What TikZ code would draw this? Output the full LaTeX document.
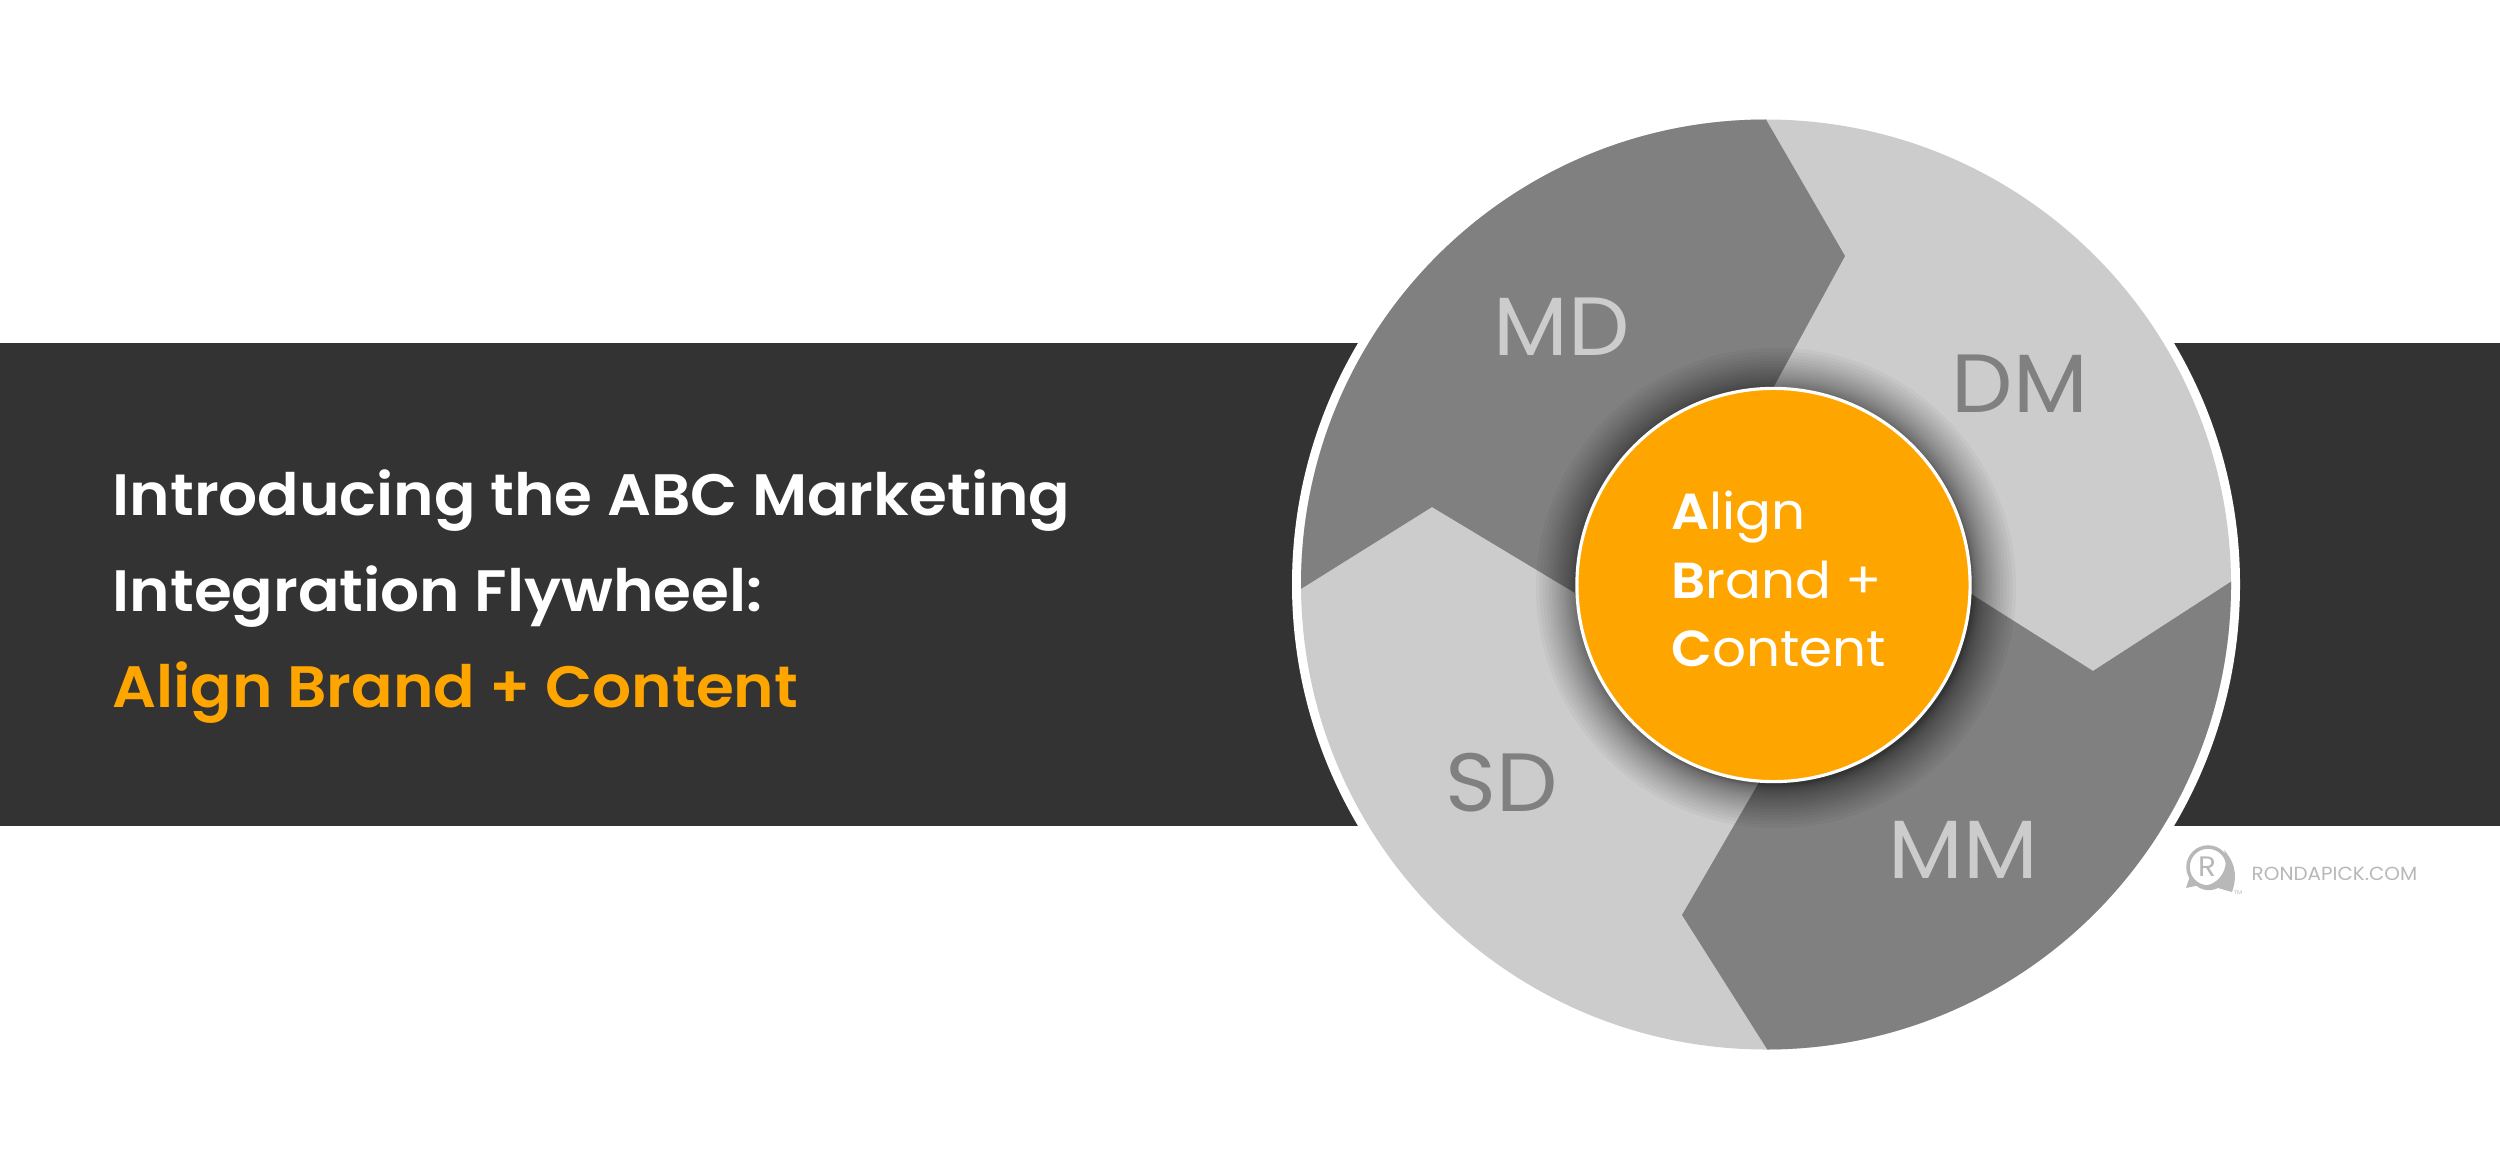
\documentclass[tikz,border=0pt]{standalone}
\usepackage{fontspec}
\setmainfont{Poppins}[FakeStretch=1.05, BoldFont={Poppins SemiBold}, BoldFeatures={FakeStretch=1.05}]
\usepackage{xcolor}
\usetikzlibrary{positioning, calc}

\definecolor{bandgray}{HTML}{333333}
\definecolor{midgray}{HTML}{808080}
\definecolor{lightgray}{HTML}{CCCCCC}
\definecolor{hubgold}{HTML}{FFA500}
\definecolor{logogray}{HTML}{B8B8B8}

\begin{document}
\begin{tikzpicture}[
      x=0.01cm, y=-0.01cm,
      % --- Estilos ---
      band/.style = {fill=bandgray, draw=none},
      title/.style = {inner sep=0pt, align=left, text=white, font=\fontsize{16.6}{27.3}\selectfont\bfseries},
      seglabel/.style = {inner sep=0pt, font=\fontsize{23.5}{28}\selectfont},
      hub/.style = {circle, draw=white, line width=0.9pt, fill=hubgold, minimum size=3.93cm, inner sep=0pt},
      hubtext/.style = {inner sep=0pt, align=left, text=white, font=\fontsize{14.4}{19.6}\selectfont},
      logo/.style = {inner sep=0pt, text=logogray}
    ]
      \useasboundingbox (0,0) rectangle (2500,1170);
      \fill[white] (0,0) rectangle (2500,1170);

      % --- Faixa ---
      \fill[band] (0,343) rectangle (2500,826);
      \node[title, anchor=west] (headline) at (112,597) {Introducing the ABC Marketing\\Integration Flywheel:\\\textcolor{hubgold}{Align Brand + Content}};

      % --- Roda ---
      \fill[white] (1766,584.5) circle (474);
      \fill[lightgray] (1766,584.5) circle (465);
      \begin{scope}
        \clip (1766,584.5) circle (465);
        \fill[midgray] (1750,92) -- (1845,256) -- (1760,412) -- (1700,600) -- (1575,593) -- (1432,507) -- (1200,652) -- (1200,92) -- cycle;
        \fill[midgray] (1900,549) -- (2093,671) -- (2300,537) -- (2300,1120) -- (1812,1120) -- (1682,915) -- (1790,729) -- cycle;
      \end{scope}

      \node[seglabel, text=lightgray] (md) at (1562,327) {MD};
      \node[seglabel, text=midgray] (dm) at (2020,384) {DM};
      \node[seglabel, text=lightgray] (mm) at (1963,850) {MM};
      \node[seglabel, text=midgray] (sd) at (1502,783) {SD};

      % Sombra do centro
      \foreach \r in {1,...,24}
        \fill[black, opacity=0.03] (1776,588) circle ({197+0.075*\r*\r});

      \node[hub] (center) at (1773.5,585) {};
      \node[hubtext, anchor=west] (slogan) at (1671,579) {\textbf{A}lign\\\textbf{B}rand +\\\textbf{C}ontent};

      % --- Logo ---
      \draw[logogray, line width=1pt, fill=white] (2208,867) circle (20);
      \fill[logogray] (2224,850) .. controls (2238,866) and (2236,880) .. (2232,892) -- (2218,888) .. controls (2210,892) and (2200,890) .. (2196,885) .. controls (2212,890) and (2232,874) .. (2224,850) -- cycle;
      \fill[logogray] (2190,876) -- (2186,888) -- (2200,885) -- cycle;
      \node[logo, font=\fontsize{8}{8}\selectfont] (mark) at (2207,867) {R};
      \node[logo, anchor=west, font=\fontsize{5.4}{6}\selectfont] (site) at (2251,874) {RONDAPICK.COM};
      \node[logo, font=\fontsize{1.6}{2}\selectfont] (tm) at (2238,893) {TM};

    \end{tikzpicture}
\end{document}
